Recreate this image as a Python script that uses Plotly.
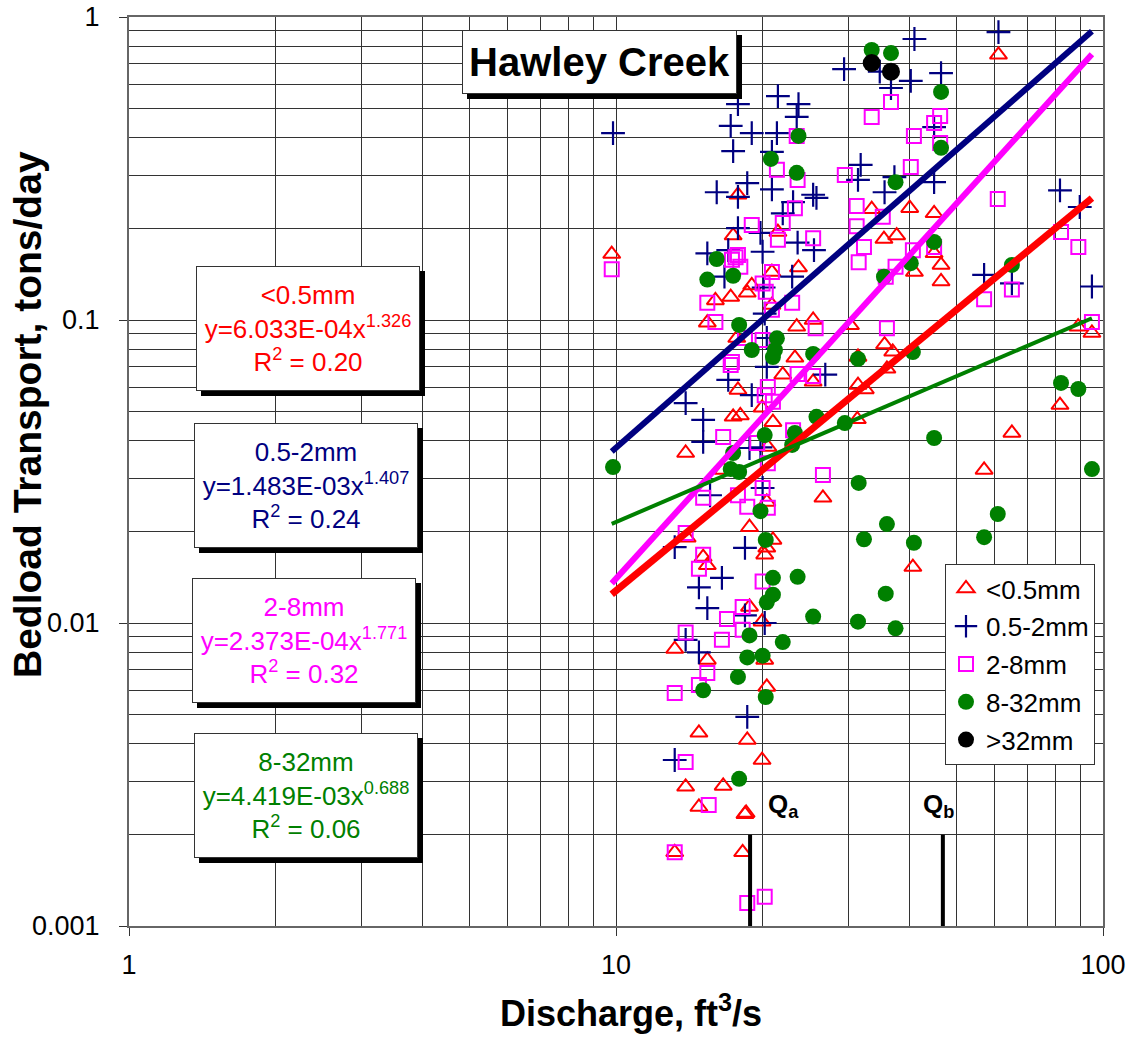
import numpy as np
import plotly.graph_objects as go

FONT = "Liberation Sans, Arial, sans-serif"

# ---------------- data (discharge ft3/s, bedload tons/day) ----------------
fine_q = [9.8, 61, 33.5, 40.1, 45, 35.5, 37.7, 45, 46.5, 41, 46.5, 23.7, 25.4, 23.5, 30.3, 35.6, 37, 23.3,
          31.4, 22, 25.4, 36, 31.4, 32.5, 31.3, 88.9, 94.9, 81.6, 65, 57, 40.7, 15.4, 16, 17.2, 18.6, 19,
          17.8, 17.4, 20.9, 21.5, 20.9, 17.7, 17.8, 17.4, 18, 19.95, 21, 13.9, 20.5, 16.6, 26.6, 20.4, 18.8,
          21, 20.2, 15.1, 15.4, 20.4, 14, 18.8, 19.95, 13.2, 15.4, 20.2, 20.4, 14.8, 18.6, 19.95, 13.9, 16.6,
          14.8, 18.4, 18.5, 13.2, 18.2]
fine_t = [0.165, 0.75, 0.232, 0.234, 0.225, 0.185, 0.19, 0.166, 0.152, 0.144, 0.134, 0.149, 0.10, 0.095,
          0.096, 0.083, 0.0785, 0.075, 0.0755, 0.066, 0.0625, 0.069, 0.061, 0.059, 0.047, 0.095, 0.0906,
          0.0524, 0.0424, 0.032, 0.0153, 0.098, 0.116, 0.119, 0.123, 0.130, 0.259, 0.19, 0.144, 0.195, 0.112,
          0.0872, 0.0588, 0.0479, 0.0484, 0.0513, 0.046, 0.0364, 0.0381, 0.032, 0.0259, 0.0251, 0.0207,
          0.0188, 0.0168, 0.0165, 0.0155, 0.0177, 0.0191, 0.0113, 0.0101, 0.0082, 0.00755, 0.00755, 0.00615,
          0.00434, 0.00411, 0.00353, 0.00288, 0.0029, 0.00247, 0.00234, 0.00236, 0.00175, 0.00175]

med_q = [9.86, 29.4, 21.5, 23.7, 23.5, 17.8, 17.2, 19, 21.4, 17.4, 20.9, 16.1, 18.6, 20.9, 17.8, 23.1, 25.4,
         25.8, 22, 17.8, 19.8, 23.6, 25.5, 15.4, 17, 20, 16.7, 23, 20.1, 41, 61, 34.8, 40.3, 46.5, 36.7, 45,
         31.8, 31.4, 37.3, 45, 35.6, 81.6, 89.6, 57, 65, 94.9, 26.9, 20.2, 20.4, 20.4, 17, 19, 13.9, 15.1,
         15.1, 18.8, 19.8, 15.6, 20, 13.2, 18.4, 16.5, 14.8, 15.4, 18.4, 20.2, 13.9, 14.8, 18.6, 13.2]
med_t = [0.414, 0.673, 0.548, 0.516, 0.468, 0.516, 0.437, 0.414, 0.414, 0.361, 0.359, 0.264, 0.283, 0.27,
         0.255, 0.245, 0.259, 0.253, 0.225, 0.201, 0.194, 0.18, 0.17, 0.166, 0.17, 0.168, 0.139, 0.139, 0.128,
         0.846, 0.892, 0.66, 0.615, 0.653, 0.583, 0.433, 0.325, 0.29, 0.296, 0.285, 0.264, 0.268, 0.236,
         0.141, 0.132, 0.129, 0.066, 0.105, 0.0872, 0.07, 0.0634, 0.0565, 0.0532, 0.0468, 0.0396, 0.0378,
         0.038, 0.0264, 0.0279, 0.0178, 0.0177, 0.0141, 0.0131, 0.0112, 0.0106, 0.01, 0.0088, 0.008, 0.0049,
         0.00353]

coarse_q = [9.8, 23.5, 21.4, 23.6, 23.3, 22, 19, 21.5, 25.4, 17.6, 18, 29.5, 17.8, 20.9, 20, 20.3, 23, 15.4,
            16, 20.9, 25.7, 18.4, 20, 36.7, 33.5, 46.3, 45, 40.9, 46.3, 40.3, 31.2, 35.3, 31.2, 32.3, 31.5,
            40.7, 45, 37.5, 35.8, 60.8, 82, 89, 57, 65, 36, 94.9, 23.6, 25.4, 17.3, 17.2, 20.5, 20.2, 21, 16.6,
            19.5, 23.1, 20.5, 26.6, 15.1, 17.8, 18.6, 20, 20.5, 13.9, 15.1, 14.8, 20, 18.2, 16.9, 18.2, 13.9,
            16.5, 15.4, 14.8, 13.2, 13.9, 15.5, 13.2, 18.6, 20.2, 17.3]
coarse_t = [0.147, 0.405, 0.313, 0.29, 0.234, 0.209, 0.206, 0.184, 0.186, 0.161, 0.15, 0.301, 0.164, 0.144,
            0.132, 0.124, 0.114, 0.114, 0.0985, 0.108, 0.094, 0.0872, 0.0859, 0.524, 0.468, 0.471, 0.447,
            0.405, 0.384, 0.32, 0.238, 0.219, 0.204, 0.174, 0.155, 0.17, 0.174, 0.15, 0.139, 0.251, 0.195,
            0.174, 0.117, 0.126, 0.094, 0.0985, 0.0663, 0.0654, 0.0727, 0.071, 0.0601, 0.0565, 0.0537, 0.0411,
            0.0393, 0.0433, 0.0337, 0.0308, 0.0259, 0.0264, 0.0242, 0.0279, 0.024, 0.0198, 0.0168, 0.0151,
            0.0137, 0.0113, 0.0103, 0.0095, 0.0093, 0.0088, 0.00684, 0.00624, 0.00587, 0.00348, 0.00251,
            0.00175, 0.00119, 0.00125, 0.158]

gravel_q = [23.7, 20.8, 23.5, 16.1, 15.4, 17.4, 33.5, 36.7, 46.5, 46.5, 37.5, 45, 40.3, 35.5, 65, 31.4, 40.7,
            25.4, 29.5, 45, 82, 89, 94.9, 31.5, 60.8, 36, 32.3, 40.9, 57, 35.8, 31.4, 37.5, 17.9, 21.4, 19,
            21.2, 21, 25.8, 20.2, 23.3, 23, 17.4, 17.2, 17.9, 9.86, 19.8, 20.3, 21, 23.6, 21, 20.4, 25.4, 18.8,
            22, 18.6, 20, 17.8, 15.1, 20.3, 17.9]
gravel_t = [0.405, 0.34, 0.306, 0.159, 0.136, 0.14, 0.778, 0.76, 0.566, 0.37, 0.285, 0.181, 0.154, 0.139,
            0.152, 0.0744, 0.0784, 0.0773, 0.0457, 0.0408, 0.062, 0.0592, 0.0322, 0.029, 0.0229, 0.0212,
            0.0189, 0.0184, 0.0192, 0.0125, 0.0101, 0.0096, 0.0963, 0.087, 0.0796, 0.0796, 0.0755, 0.0479,
            0.0417, 0.0424, 0.0387, 0.0364, 0.0322, 0.0315, 0.0327, 0.0234, 0.0188, 0.0141, 0.0142, 0.0124,
            0.0117, 0.0105, 0.0091, 0.00865, 0.0077, 0.0078, 0.00664, 0.006, 0.0057, 0.00306]

cobble_q = [33.5, 36.7]
cobble_t = [0.705, 0.66]

# power-law fits shown on the chart: y = a * x^b
fit_names = ["<0.5mm", "0.5-2mm", "2-8mm", "8-32mm"]
fit_a = [6.033e-4, 1.483e-3, 2.373e-4, 4.419e-3]
fit_b = [1.326, 1.407, 1.771, 0.688]
fit_r2 = ["0.20", "0.24", "0.32", "0.06"]

# threshold discharges
q_names = ["a", "b"]
q_values = [18.85, 46.9]
q_span = [0.001, 0.002]

x_tick_vals = [1, 10, 100]
x_tick_text = ["1", "10", "100"]
y_tick_vals = [0.001, 0.01, 0.1, 1]
y_tick_text = ["0.001", "0.01", "0.1", "1"]

# ---------------- styling ----------------
RED, NAVY, MAG, GRN = "#FF0000", "#000080", "#FF00FF", "#008000"
fit_colors = [RED, NAVY, MAG, GRN]
fit_widths = [7, 6, 6, 4]

W, H = 1133, 1042
ML, MR, MT, MB = 129, 30, 17, 116
PW, PH = W - ML - MR, H - MT - MB


def fx(p):
    return (p - ML) / PW


def fy(p):
    return (H - MB - p) / PH


fig = go.Figure()

series = [
    ("&lt;0.5mm", fine_q, fine_t, dict(symbol="triangle-up-open", size=15, color=RED, line=dict(width=2, color=RED))),
    ("0.5-2mm", med_q, med_t, dict(symbol="cross-thin", size=17, color=NAVY, line=dict(width=2.2, color=NAVY))),
    ("2-8mm", coarse_q, coarse_t, dict(symbol="square-open", size=14, color=MAG, line=dict(width=2, color=MAG))),
    ("8-32mm", gravel_q, gravel_t, dict(symbol="circle", size=16, color=GRN, line=dict(width=0))),
    ("&gt;32mm", cobble_q, cobble_t, dict(symbol="circle", size=18, color="#000000", line=dict(width=0))),
]
for i, (name, xs, ys, mk) in enumerate(series):
    fig.add_trace(go.Scatter(x=xs, y=ys, mode="markers", name=name, marker=mk,
                             legendgroup=f"g{i}", showlegend=True))

all_q = fine_q + med_q + coarse_q + gravel_q + cobble_q
qmin, qmax = min(all_q), max(all_q)
xfit = np.array([qmin, qmax])
for a, b, c, w in zip(fit_a, fit_b, fit_colors, fit_widths):
    fig.add_trace(go.Scatter(x=xfit, y=a * xfit ** b, mode="lines", line=dict(color=c, width=w),
                             showlegend=False, hoverinfo="skip"))

# threshold discharge bars
qx, qy = [], []
for q in q_values:
    qx += [q, q, None]
    qy += [q_span[0], q_span[1], None]
fig.add_trace(go.Scatter(x=qx, y=qy, mode="lines", line=dict(color="black", width=4),
                         showlegend=False, hoverinfo="skip"))

annotations = []
shapes = []

# Q labels
for nm, q, xs in zip(q_names, q_values, [33, -4]):
    annotations.append(dict(x=np.log10(q), y=np.log10(0.0025), xref="x", yref="y",
                            text=f"<b>Q<sub>{nm}</sub></b>", showarrow=False, xshift=xs,
                            font=dict(family=FONT, size=26, color="black")))


def boxed(x0, y0, x1, y1, text, color, size):
    shapes.append(dict(type="rect", xref="paper", yref="paper", x0=fx(x0 + 5), x1=fx(x1 + 5),
                       y0=fy(y1 + 5), y1=fy(y0 + 5), fillcolor="black", line=dict(width=0), layer="above"))
    annotations.append(dict(x=fx((x0 + x1) / 2), y=fy((y0 + y1) / 2), xref="paper", yref="paper",
                            xanchor="center", yanchor="middle", showarrow=False, text=text,
                            width=x1 - x0 - 2, height=y1 - y0 - 2, bgcolor="white", bordercolor="#333",
                            borderwidth=1, borderpad=0, align="center",
                            font=dict(family=FONT, size=size, color=color)))


boxed(462, 30, 737, 94, "<b>Hawley Creek</b>", "black", 40)

box_pos = [(196, 266, 420, 391), (194, 423, 418, 548), (192, 578, 416, 703), (194, 733, 418, 858)]
for nm, a, b, r2, c, (x0, y0, x1, y1) in zip(fit_names, fit_a, fit_b, fit_r2, fit_colors, box_pos):
    mant, ex = f"{a:.3E}".split("E")
    ex = ("-" if int(ex) < 0 else "+") + f"{abs(int(ex)):02d}"
    nm_t = nm.replace("<", "&lt;")
    txt = f"{nm_t}<br>y={mant}E{ex}x<sup>{b:.3f}</sup><br>R<sup>2</sup> = {r2}"
    boxed(x0, y0, x1, y1, txt, c, 26)

# axis titles
annotations.append(dict(x=fx(27), y=fy(415), xref="paper", yref="paper", textangle=-90, showarrow=False,
                        text="<b>Bedload Transport, tons/day</b>", xanchor="center", yanchor="middle",
                        font=dict(family=FONT, size=39, color="black")))
annotations.append(dict(x=fx(631), y=fy(1011), xref="paper", yref="paper", showarrow=False,
                        text="<b>Discharge, ft<sup>3</sup>/s</b>", xanchor="center", yanchor="middle",
                        font=dict(family=FONT, size=36, color="black")))

minor_x = [m * d for d in (1, 10) for m in range(2, 10)]
minor_y = [m * d for d in (0.001, 0.01, 0.1) for m in range(2, 10)]
GRID = "#333333"

fig.update_layout(
    width=W, height=H, autosize=False,
    margin=dict(l=ML, r=MR, t=MT, b=MB, pad=0, autoexpand=False),
    paper_bgcolor="white", plot_bgcolor="white",
    font=dict(family=FONT, size=26, color="black"),
    showlegend=True,
    legend=dict(x=fx(945), y=fy(564), xanchor="left", yanchor="top", bgcolor="white",
                bordercolor="#333", borderwidth=1, font=dict(family=FONT, size=26, color="black"),
                tracegroupgap=1, traceorder="grouped", itemsizing="trace"),
    xaxis=dict(type="log", range=[0, 2], tickmode="array", tickvals=x_tick_vals, ticktext=x_tick_text,
               ticks="outside", ticklen=8, tickcolor="#333", showgrid=True, gridcolor=GRID, gridwidth=1,
               showline=True, linecolor="#666", linewidth=2, mirror=True, zeroline=False, automargin=False,
               tickfont=dict(family=FONT, size=27), ticklabelstandoff=6,
               minor=dict(tickmode="array", tickvals=minor_x, showgrid=True, gridcolor=GRID, gridwidth=1,
                          ticks="")),
    yaxis=dict(type="log", range=[-3, 0], tickmode="array", tickvals=y_tick_vals, ticktext=y_tick_text,
               ticks="outside", ticklen=8, tickcolor="#333", showgrid=True, gridcolor=GRID, gridwidth=1,
               showline=True, linecolor="#666", linewidth=2, mirror=True, zeroline=False, automargin=False,
               tickfont=dict(family=FONT, size=27), ticklabelstandoff=14,
               minor=dict(tickmode="array", tickvals=minor_y, showgrid=True, gridcolor=GRID, gridwidth=1,
                          ticks="")),
    annotations=annotations,
    shapes=shapes,
)

fig.write_html("out.html")
